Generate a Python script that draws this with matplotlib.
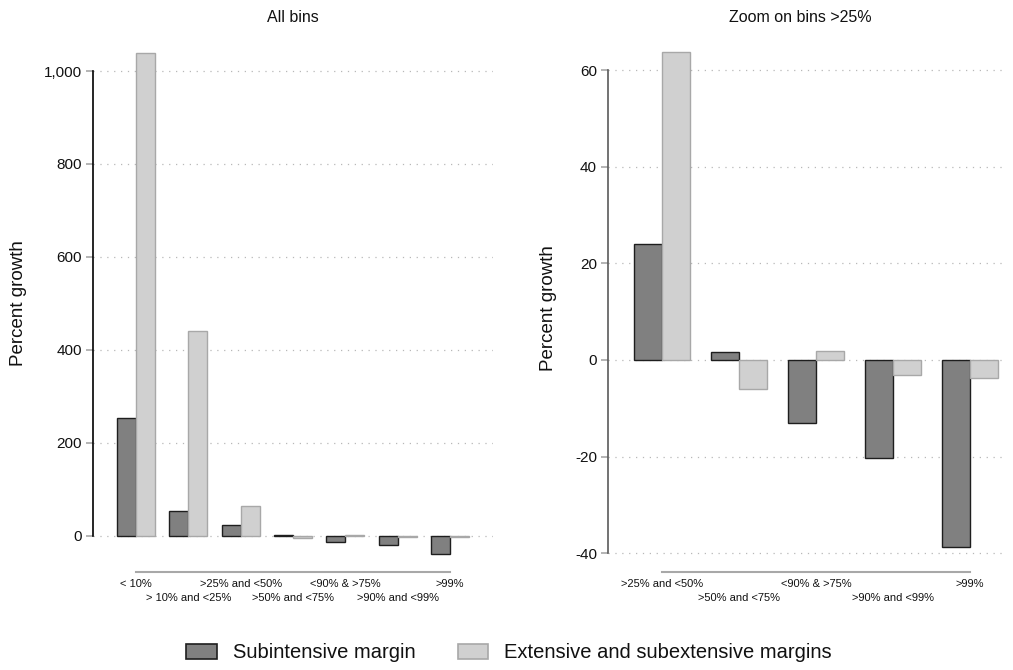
import matplotlib
matplotlib.use("Agg")
import matplotlib.pyplot as plt
from matplotlib.patches import Patch
from matplotlib.ticker import FuncFormatter
import numpy as np

plt.rcParams["font.family"] = ["Liberation Sans", "DejaVu Sans"]
plt.rcParams["axes.unicode_minus"] = False

# Percent growth by bin
bins_all = ["< 10%", "> 10% and <25%", ">25% and <50%", ">50% and <75%",
            "<90% & >75%", ">90% and <99%", ">99%"]
subintensive_all = [252.5, 54, 24.1, 1.7, -13.1, -20.2, -38.7]
extensive_all = [1039, 440.5, 63.7, -6.0, 1.9, -3.1, -3.8]

bins_zoom = bins_all[2:]
subintensive_zoom = subintensive_all[2:]
extensive_zoom = extensive_all[2:]

yticks_all = [0, 200, 400, 600, 800, 1000]
yticks_zoom = [-40, -20, 0, 20, 40, 60]

DARK_FILL, DARK_EDGE = "#808080", "#1e1e1e"
LIGHT_FILL, LIGHT_EDGE = "#d0d0d0", "#a8a8a8"
AXIS_GRAY = "#a8a8a8"
TEXT = "#111111"

W, H = 1013, 670
fig = plt.figure(figsize=(W / 100, H / 100), dpi=100)


def px_axes(left, right, top, bottom):
    return fig.add_axes([left / W, 1 - bottom / H, (right - left) / W, (bottom - top) / H])


def draw_panel(ax, cats, sub, ext, yticks, ylim, xlim, spine_color, ylabel_xy):
    x = np.arange(len(cats))
    w = 0.365
    ax.bar(x - w / 2, sub, width=w, color=DARK_FILL, edgecolor=DARK_EDGE,
           linewidth=1.0, zorder=3)
    ax.bar(x + w / 2, ext, width=w, color=LIGHT_FILL, edgecolor=LIGHT_EDGE,
           linewidth=1.0, zorder=3)
    ax.set_xlim(*xlim)
    ax.set_ylim(*ylim)
    ax.set_yticks(yticks)
    ax.yaxis.set_major_formatter(FuncFormatter(lambda v, p: f"{v:,.0f}"))
    ax.tick_params(axis="y", length=5, width=1.2, color=AXIS_GRAY,
                   labelsize=11, pad=3, labelcolor=TEXT)
    ax.grid(axis="y", linestyle=(0, (1, 4.5)), color="#b8b8b8", linewidth=0.9, zorder=0)
    ax.set_axisbelow(True)

    # Category labels alternate between two rows: even ones on the major
    # ticks, odd ones on minor ticks pushed one line lower.
    ax.set_xticks(x[0::2])
    ax.set_xticklabels(cats[0::2], fontsize=8)
    ax.set_xticks(x[1::2], minor=True)
    ax.set_xticklabels(cats[1::2], minor=True, fontsize=8)
    ax.tick_params(axis="x", which="major", length=0, pad=5, labelcolor=TEXT)
    ax.tick_params(axis="x", which="minor", length=0, pad=15, labelcolor=TEXT)

    for s in ("top", "right"):
        ax.spines[s].set_visible(False)
    ax.spines["left"].set_bounds(yticks[0], yticks[-1])
    ax.spines["left"].set_color(spine_color)
    ax.spines["left"].set_linewidth(1.2)
    ax.spines["bottom"].set_bounds(x[0], x[-1])
    ax.spines["bottom"].set_color(AXIS_GRAY)
    ax.spines["bottom"].set_linewidth(1.5)

    ax.set_ylabel("Percent growth", fontsize=13.5, color=TEXT)
    ax.yaxis.set_label_coords(*ylabel_xy)


ax1 = px_axes(93, 493, 45, 572)
draw_panel(ax1, bins_all, subintensive_all, extensive_all, yticks_all,
           (-78.1, 1056), (-0.82, 6.82), "#000000", (-0.165, 0.51))

ax2 = px_axes(608, 1003, 45, 572)
draw_panel(ax2, bins_zoom, subintensive_zoom, extensive_zoom, yticks_zoom,
           (-43.9, 65.2), (-0.70, 4.43), "#5a5a5a", (-0.128, 0.50))

fig.text(293 / W, 1 - 18 / H, "All bins", ha="center", va="center",
         fontsize=11.5, color=TEXT)
fig.text(800 / W, 1 - 18 / H, "Zoom on bins >25%", ha="center", va="center",
         fontsize=11.5, color=TEXT)

handles = [
    Patch(facecolor=DARK_FILL, edgecolor=DARK_EDGE, linewidth=1.2, label="Subintensive margin"),
    Patch(facecolor=LIGHT_FILL, edgecolor=LIGHT_EDGE, linewidth=1.2,
          label="Extensive and subextensive margins"),
]
fig.legend(handles=handles, loc="center", bbox_to_anchor=(509 / W, 1 - 653 / H),
           ncol=2, frameon=False, fontsize=14.5, handlelength=1.5, handleheight=0.75,
           handletextpad=0.8, columnspacing=2.1, labelcolor=TEXT)

fig.savefig("out.png", dpi=100)
